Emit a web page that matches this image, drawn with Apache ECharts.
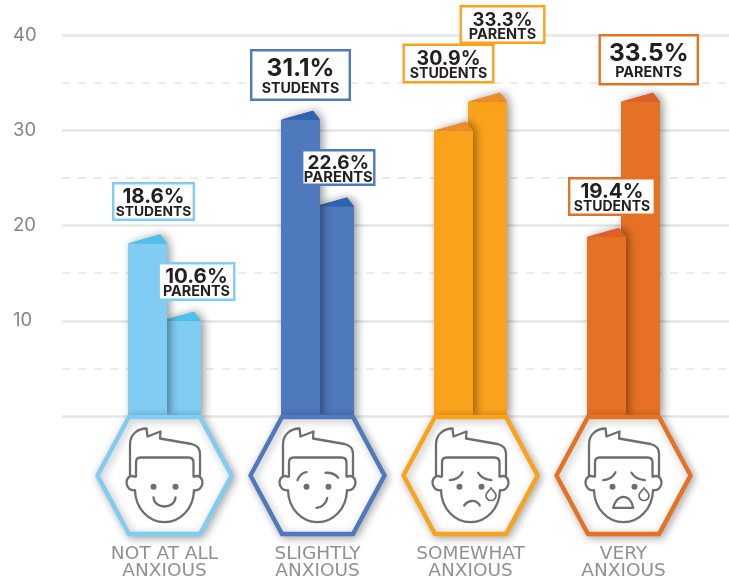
<!DOCTYPE html>
<html>
<head>
<meta charset="utf-8">
<style>html,body{margin:0;padding:0;background:#fff}#c{width:729px;height:579px}</style>
<script src="https://cdn.jsdelivr.net/npm/echarts@6/dist/echarts.min.js"></script>
</head>
<body>
<div id="c"></div>
<script>
// ---- data ----
const categories = ['NOT AT ALL\nANXIOUS', 'SLIGHTLY\nANXIOUS', 'SOMEWHAT\nANXIOUS', 'VERY\nANXIOUS'];
const students = [18.1, 31.1, 29.95, 18.8];
const parents = [10, 22, 33, 33];
const studentLabels = ['18.6%', '31.1%', '30.9%', '19.4%'];
const parentLabels = ['10.6%', '22.6%', '33.3%', '33.5%'];
const yTicks = [10, 20, 30, 40];

// ---- styles and layout ----
const barColors = ['#80CCF2', '#4F79BD', '#FAA21B', '#E57224'];
const capColors = ['#4FBFEE', '#2F62B0', '#EC8C26', '#E05F27'];
const FONT = 'Inter, "Open Sans", sans-serif';
const INK = '#231F20';
const FACE = '#6E6E6E';
// callout: dx from group centre, dy from axis zero, width, height, big font, small font
const studentBoxes = [
  [-52.5, -234, 83, 39, 20.5, 13.8],
  [-67.5, -367, 101, 52, 24.5, 14.2],
  [-68, -372.5, 92, 40, 19.5, 14.2],
  [-55.5, -239, 88, 39, 20.5, 14]
];
const parentBoxes = [
  [-7, -154, 78, 39, 20.5, 14.4],
  [-16.5, -267, 74.5, 37, 19, 14.8],
  [-11, -411, 86, 39, 18.5, 14.5],
  [-25, -382, 100.5, 51.5, 24.5, 14.4]
];
const HEAD = 'M-34.5 1 L-34.5 -31 C-34.5 -41 -27 -47 -18 -47 L-17 -39 L-4 -44 L-4.5 -37 L27 -31.5 C33 -30 35.5 -27 35.5 -22 L35.5 1 ' +
  'M-28.5 1 L-28.5 -13 C-28.5 -16 -27 -18 -24 -18 L24 -18 C27 -18 29 -16 29 -13 L29 1 ' +
  'M-29.5 1.3 C-34 -1 -38 2 -38 7.3 C-38 12 -34 15.5 -29.5 14.7 C-29 33 -16 46.7 0 46.7 C16 46.7 29 33 29.5 14.7 C34 15.5 38 12 38 7.3 C38 2 34 -1 29.5 1.3';
const FEATURES = [
  'M-11 22 C-10 34 10 34 11 22',
  'M-20 4.7 C-18 0 -15 -3 -11 -3.3 M8 -2.7 C13 -3 18 -1 20.7 2.3 M-1 32.3 C4 32 9 28 9.7 22.3',
  'M-20.7 4.7 C-15 4 -10 1 -8 -3.3 M7.7 -2.7 C10 1 15 4 21 4.7 M-6.3 30 C-3 25 5 23 9.3 30',
  'M-20.3 4.7 C-15 4 -10 1 -8 -3.3 M8 -2.7 C10 1 15 4 21.3 4.7 M-10.3 32.3 C-9 26 -5 21.3 0 21.3 C5 21.3 8.5 26 9.7 32.3 Z'
];
const FEATURE_RECTS = [
  [-11, 22, 22, 9],
  [-20, -3.3, 40.7, 35.6],
  [-20.7, -3.3, 41.7, 33.3],
  [-20.3, -3.3, 41.6, 35.6]
];
const TEAR = 'M20.5 12.3 C19 15 15.5 17 15.5 20 A5 5 0 0 0 25.5 20 C25.5 17 22 15 20.5 12.3 Z';

function barItem(side) {
  return function (params, api) {
    const i = api.value(0);
    const c = api.coord([i, 0]);
    const top = api.coord([i, api.value(1)])[1];
    const band = api.size([1, 0])[0];
    const half = band * 0.1275;     // bar is 39 px wide in a 153 px band
    const cx = c[0] + side * (half - 2.5); // the two bars overlap by 5 px
    const l = cx - half, r = cx + half;
    const shadow = { shadowBlur: 9, shadowColor: 'rgba(0,0,0,0.45)', shadowOffsetX: 3, shadowOffsetY: 0 };
    return {
      type: 'group',
      children: [
        { type: 'polygon', shape: { points: [[l, top], [r - 7, top - 9], [r, top]] },
          style: Object.assign({ fill: capColors[i] }, shadow) },
        { type: 'rect', shape: { x: l, y: top, width: r - l, height: c[1] - top },
          style: Object.assign({ fill: barColors[i] }, shadow) },
        { type: 'polygon', shape: { points: [[l, top], [r - 7, top - 9], [r, top]] },
          style: { fill: capColors[i] } }
      ]
    };
  };
}

function hexItem(params, api) {
  const i = api.value(0);
  const c = api.coord([i, 0]);
  const cx = c[0], cy = c[1] + 59.5;
  const children = [
    { type: 'polygon', x: cx, y: cy,
      shape: { points: [[-67, 0], [-35.5, -58.5], [35.5, -58.5], [67, 0], [35.5, 58.5], [-35.5, 58.5]] },
      style: { fill: '#fff', stroke: barColors[i], lineWidth: 4.4, lineJoin: 'miter',
        shadowBlur: 9, shadowColor: 'rgba(0,0,0,0.3)', shadowOffsetX: 2, shadowOffsetY: 2 } },
    { type: 'path', x: cx, y: cy,
      shape: { pathData: HEAD, x: -38, y: -47, width: 76, height: 93.7, layout: 'center' },
      style: { fill: 'none', stroke: FACE, lineWidth: 2.3, lineJoin: 'round', lineCap: 'round' } },
    { type: 'circle', x: cx, y: cy, shape: { cx: -11, cy: 11.3, r: 3 }, style: { fill: FACE } },
    { type: 'circle', x: cx, y: cy, shape: { cx: 11, cy: 11.3, r: 3 }, style: { fill: FACE } }
  ];
  const fr = FEATURE_RECTS[i];
  children.push({ type: 'path', x: cx, y: cy,
    shape: { pathData: FEATURES[i], x: fr[0], y: fr[1], width: fr[2], height: fr[3], layout: 'cover' },
    style: { fill: 'none', stroke: FACE, lineWidth: 2.3, lineCap: 'round', lineJoin: 'round' } });
  if (i >= 2) {
    children.push({ type: 'path', x: cx, y: cy,
      shape: { pathData: TEAR, x: 15.5, y: 12.3, width: 10, height: 12.7, layout: 'cover' },
      style: { fill: '#fff', stroke: FACE, lineWidth: 1.7, lineJoin: 'round' } });
  }
  return { type: 'group', children };
}

function calloutItem(word, labels, boxes) {
  return function (params, api) {
    const i = api.value(0);
    const c = api.coord([i, 0]);
    const b = boxes[i];
    const x = c[0] + b[0], y = c[1] + b[1], w = b[2], h = b[3];
    return {
      type: 'group',
      children: [
        { type: 'rect', shape: { x: x + 1.2, y: y + 1.2, width: w - 2.4, height: h - 2.4 },
          style: { fill: '#fff', stroke: barColors[i], lineWidth: 2.4 } },
        { type: 'text', style: { x: x + w / 2, y: y + h * 0.365 + 1, text: labels[i], align: 'center', verticalAlign: 'middle',
            fill: INK, font: '700 ' + b[4] + 'px ' + FONT } },
        { type: 'text', style: { x: x + w / 2, y: y + h * 0.75 + 0.5, text: word, align: 'center', verticalAlign: 'middle',
            fill: INK, font: '700 ' + b[5] + 'px ' + FONT } }
      ]
    };
  };
}

const idx = categories.map((_, i) => i);

const chart = echarts.init(document.getElementById('c'), null, { renderer: 'canvas' });
chart.setOption({
  animation: false,
  backgroundColor: '#fff',
  grid: [
    { left: 62, right: 0, top: 35, bottom: 163, outerBoundsMode: 'none' },
    { left: 88, right: 29, top: 35, bottom: 163, outerBoundsMode: 'none' }
  ],
  xAxis: [
    { type: 'category', gridIndex: 0, data: [''], show: false },
    { type: 'category', gridIndex: 1, data: categories,
      axisLine: { show: false }, axisTick: { show: false },
      axisLabel: { interval: 0, margin: 130, color: '#919191', fontFamily: '"DejaVu Sans", sans-serif', fontSize: 18.5, lineHeight: 17 } }
  ],
  yAxis: [
    { type: 'value', gridIndex: 0, min: 0, max: 40, interval: 10,
      minorTick: { show: false, splitNumber: 2 },
      axisLine: { show: false }, axisTick: { show: false },
      axisLabel: { align: 'left', margin: 49, color: '#858585', fontFamily: FONT, fontSize: 18.5, padding: [6, 0, 0, 0],
        formatter: v => yTicks.includes(v) ? String(v) : '' },
      splitLine: { show: true, lineStyle: { color: '#E6E6E6', width: 2.5 } },
      minorSplitLine: { show: true, lineStyle: { color: '#E6E6E6', width: 1.5, type: [8, 8] } } },
    { type: 'value', gridIndex: 1, min: 0, max: 40, interval: 10, show: false }
  ],
  series: [
    { type: 'custom', name: 'Parents', xAxisIndex: 1, yAxisIndex: 1, z: 2,
      data: parents.map((v, i) => [i, v]), renderItem: barItem(1), encode: { x: 0, y: 1 } },
    { type: 'custom', name: 'Students', xAxisIndex: 1, yAxisIndex: 1, z: 3,
      data: students.map((v, i) => [i, v]), renderItem: barItem(-1), encode: { x: 0, y: 1 } },
    { type: 'custom', name: 'Faces', xAxisIndex: 1, yAxisIndex: 1, z: 4,
      data: idx.map(i => [i, 0]), renderItem: hexItem, encode: { x: 0, y: 1 } },
    { type: 'custom', name: 'Student labels', xAxisIndex: 1, yAxisIndex: 1, z: 5,
      data: idx.map(i => [i, 0]), renderItem: calloutItem('STUDENTS', studentLabels, studentBoxes), encode: { x: 0, y: 1 } },
    { type: 'custom', name: 'Parent labels', xAxisIndex: 1, yAxisIndex: 1, z: 6,
      data: idx.map(i => [i, 0]), renderItem: calloutItem('PARENTS', parentLabels, parentBoxes), encode: { x: 0, y: 1 } }
  ]
});
</script>
</body>
</html>
